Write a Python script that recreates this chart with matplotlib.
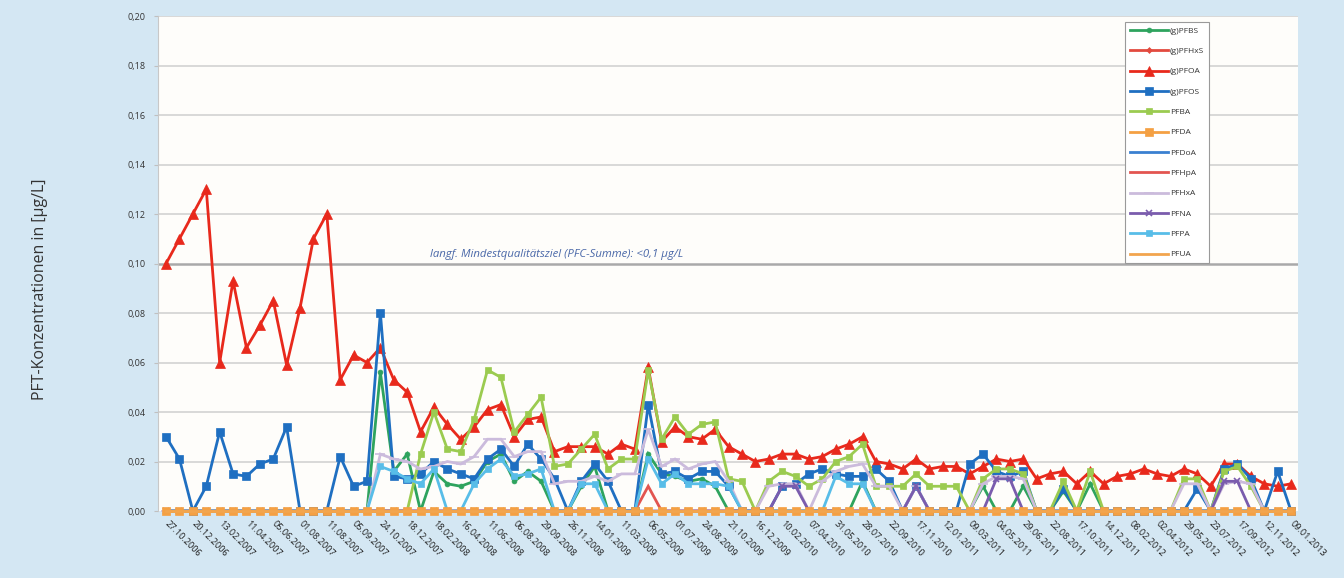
import matplotlib
matplotlib.use("Agg")
import matplotlib.pyplot as plt
from matplotlib.ticker import FuncFormatter
import numpy as np

plt.rcParams['font.family'] = ['Open Sans', 'DejaVu Sans']

# sampling dates (every second sample is labelled on the axis)
dates = ["27.10.2006", "20.12.2006", "13.02.2007", "11.04.2007", "05.06.2007",
         "01.08.2007", "11.08.2007", "05.09.2007", "24.10.2007", "18.12.2007",
         "18.02.2008", "16.04.2008", "11.06.2008", "06.08.2008", "29.09.2008",
         "26.11.2008", "14.01.2009", "11.03.2009", "06.05.2009", "01.07.2009",
         "24.08.2009", "21.10.2009", "16.12.2009", "10.02.2010", "07.04.2010",
         "31.05.2010", "28.07.2010", "22.09.2010", "17.11.2010", "12.01.2011",
         "09.03.2011", "04.05.2011", "29.06.2011", "22.08.2011", "17.10.2011",
         "14.12.2011", "08.02.2012", "02.04.2012", "29.05.2012", "23.07.2012",
         "17.09.2012", "12.11.2012", "09.01.2013"]
n_samples = 85

pfoa = [0.100, 0.110, 0.120, 0.130, 0.060, 0.093, 0.066, 0.075, 0.085, 0.059,
        0.082, 0.110, 0.120, 0.053, 0.063, 0.060, 0.066, 0.053, 0.048, 0.032,
        0.042, 0.035, 0.029, 0.034, 0.041, 0.043, 0.030, 0.037, 0.038, 0.024,
        0.026, 0.026, 0.026, 0.023, 0.027, 0.025, 0.058, 0.028, 0.034, 0.030,
        0.029, 0.033, 0.026, 0.023, 0.020, 0.021, 0.023, 0.023, 0.021, 0.022,
        0.025, 0.027, 0.030, 0.020, 0.019, 0.017, 0.021, 0.017, 0.018, 0.018,
        0.015, 0.018, 0.021, 0.020, 0.021, 0.013, 0.015, 0.016, 0.011, 0.016,
        0.011, 0.014, 0.015, 0.017, 0.015, 0.014, 0.017, 0.015, 0.010, 0.019,
        0.019, 0.014, 0.011, 0.010, 0.011]

pfos = [0.030, 0.021, 0, 0.010, 0.032, 0.015, 0.014, 0.019, 0.021, 0.034,
        0, 0, 0, 0.022, 0.010, 0.012, 0.080, 0.014, 0.013, 0.015,
        0.020, 0.017, 0.015, 0.013, 0.021, 0.025, 0.018, 0.027, 0.021, 0.013,
        0, 0.012, 0.019, 0.012, 0, 0, 0.043, 0.015, 0.016, 0.013,
        0.016, 0.016, 0.010, 0, 0, 0, 0.010, 0.011, 0.015, 0.017,
        0.015, 0.014, 0.014, 0.017, 0.012, 0, 0.010, 0, 0, 0,
        0.019, 0.023, 0.016, 0.014, 0.016, 0, 0, 0.009, 0, 0,
        0, 0, 0, 0, 0, 0, 0, 0.009, 0, 0.017,
        0.019, 0.013, 0, 0.016, 0]

pfbs = [0] * 15 + [
        0, 0.056, 0.016, 0.023, 0,
        0.016, 0.011, 0.010, 0.012, 0.020, 0.023, 0.012, 0.016, 0.012, 0,
        0, 0.010, 0.018, 0, 0, 0, 0.023, 0.015, 0.014, 0.012,
        0.013, 0.010, 0, 0, 0, 0, 0, 0, 0, 0,
        0, 0, 0.012, 0, 0, 0, 0, 0, 0, 0,
        0, 0.010, 0, 0, 0.010, 0, 0, 0.008, 0, 0.011,
        0, 0, 0, 0, 0, 0, 0, 0, 0, 0,
        0, 0, 0, 0, 0]

pfba = [0] * 16 + [
        0, 0, 0, 0.023,
        0.040, 0.025, 0.024, 0.037, 0.057, 0.054, 0.032, 0.039, 0.046, 0.018,
        0.019, 0.025, 0.031, 0.017, 0.021, 0.021, 0.057, 0.029, 0.038, 0.031,
        0.035, 0.036, 0.013, 0.012, 0, 0.012, 0.016, 0.014, 0.010, 0.013,
        0.020, 0.022, 0.027, 0.010, 0.010, 0.010, 0.015, 0.010, 0.010, 0.010,
        0, 0.013, 0.017, 0.017, 0.015, 0, 0, 0.012, 0, 0.016,
        0, 0, 0, 0, 0, 0, 0.013, 0.013, 0, 0.016,
        0.018, 0.010, 0, 0, 0]

pfhxa = [0] * 16 + [
         0.023, 0.021, 0.020, 0.017,
         0.018, 0.020, 0.019, 0.022, 0.029, 0.029, 0.022, 0.024, 0.024, 0.011,
         0.012, 0.012, 0.014, 0.012, 0.015, 0.015, 0.033, 0.018, 0.021, 0.017,
         0.019, 0.020, 0.012, 0, 0, 0.010, 0.011, 0.011, 0, 0.012,
         0.016, 0.018, 0.019, 0.010, 0.010, 0, 0.010, 0, 0, 0,
         0, 0.011, 0.014, 0.014, 0.013, 0, 0, 0, 0, 0,
         0, 0, 0, 0, 0, 0, 0.011, 0.011, 0, 0.011,
         0.012, 0.011, 0, 0, 0]

pfpa = [0] * 16 + [
        0.018, 0.016, 0.013, 0.011,
        0.017, 0, 0, 0.011, 0.017, 0.021, 0.014, 0.015, 0.017, 0,
        0, 0.011, 0.011, 0, 0, 0, 0.021, 0.011, 0.015, 0.011,
        0.011, 0.011, 0.010, 0, 0, 0, 0, 0, 0, 0,
        0.014, 0.011, 0.011, 0, 0, 0, 0, 0, 0, 0] + [0] * 25

pfna = [0] * n_samples
for i, v in [(46, 0.010), (47, 0.010), (56, 0.010), (62, 0.013), (63, 0.013),
             (79, 0.012), (80, 0.012)]:
    pfna[i] = v

pfhpa = [0] * n_samples
pfhpa[36] = 0.010

pfhxs = [0] * n_samples
pfdoa = [0] * n_samples
pfda = [0] * n_samples
pfua = [0] * n_samples

# name, values, colour, marker, markersize
series = [
    ("(g)PFBS", pfbs, "#2ea35e", "o", 3.5),
    ("(g)PFHxS", pfhxs, "#e24a3f", "D", 3),
    ("(g)PFOA", pfoa, "#e8291c", "^", 6.5),
    ("(g)PFOS", pfos, "#1f6fc1", "s", 5.5),
    ("PFBA", pfba, "#9bcb50", "s", 5),
    ("PFDA", pfda, "#f4a043", "s", 5.5),
    ("PFDoA", pfdoa, "#3a80d0", "", 0),
    ("PFHpA", pfhpa, "#e25550", "", 0),
    ("PFHxA", pfhxa, "#cbbbdc", "_", 7),
    ("PFNA", pfna, "#7a5cad", "x", 4),
    ("PFPA", pfpa, "#58bde8", "s", 4.5),
    ("PFUA", pfua, "#f2a54e", "", 0),
]

fig = plt.figure(figsize=(13.44, 5.78), dpi=100, facecolor="#d4e7f3")
ax = fig.add_axes([0.1176, 0.1159, 0.848, 0.8564])
ax.set_facecolor("#fefdfa")

x = np.arange(n_samples)
for name, vals, col, mk, ms in series:
    # the all-zero orange series sit on top along the baseline
    z = 3 if name in ("PFDA", "PFUA") else 2
    ax.plot(x, vals, color=col, lw=2.0, marker=mk if mk else None,
            markersize=ms, markeredgewidth=1.2 if mk in ("x", "_") else 0.5,
            markeredgecolor=col, label=name, solid_joinstyle="miter",
            clip_on=False, zorder=z)

# horizontal grid
for yv in np.arange(0.02, 0.201, 0.02):
    strong = abs(yv - 0.10) < 1e-9
    ax.axhline(yv, color="#a9a9a9" if strong else "#d2d2d2",
               lw=1.8 if strong else 1.2, zorder=0)

ax.set_xlim(-0.6, 84.5)
ax.set_ylim(0, 0.20)
ax.set_yticks(np.arange(0, 0.201, 0.02))
ax.yaxis.set_major_formatter(FuncFormatter(lambda v, p: ("%.2f" % v).replace(".", ",")))
ax.tick_params(axis="y", labelsize=6.5, colors="#c0c0c0", labelcolor="#333333",
               length=3, pad=6)

ax.set_xticks(np.arange(0, n_samples, 2))
ax.set_xticklabels(dates, rotation=-45, ha="left", va="center",
                   rotation_mode="anchor", fontsize=6.6, color="#1e1e1e")
ax.tick_params(axis="x", length=0, pad=8)

for side in ("top", "right", "bottom"):
    ax.spines[side].set_visible(False)
ax.spines["left"].set_color("#c8c8c8")

ax.text(19.7, 0.1035, "langf. Mindestqualitätsziel (PFC-Summe): <0,1 µg/L",
        style="italic", fontsize=8.2, color="#4a68a8", va="center", ha="left")

fig.text(0.03, 0.5, "PFT-Konzentrationen in [µg/L]", rotation=90,
         fontsize=11.5, color="#333333", va="center", ha="center")

leg = ax.legend(loc="upper left", bbox_to_anchor=(1125 / 1344, 1 - 22 / 578),
                bbox_transform=fig.transFigure, fontsize=6, frameon=True,
                fancybox=False, edgecolor="#9a9a9a", facecolor="white",
                framealpha=1, labelspacing=1.5, handlelength=4.6,
                handletextpad=0.2, borderpad=0.6, borderaxespad=0)
leg.set_zorder(5)
leg.get_frame().set_linewidth(0.8)
for t in leg.get_texts():
    t.set_color("#333333")

fig.savefig("out.png", dpi=100, facecolor=fig.get_facecolor())
